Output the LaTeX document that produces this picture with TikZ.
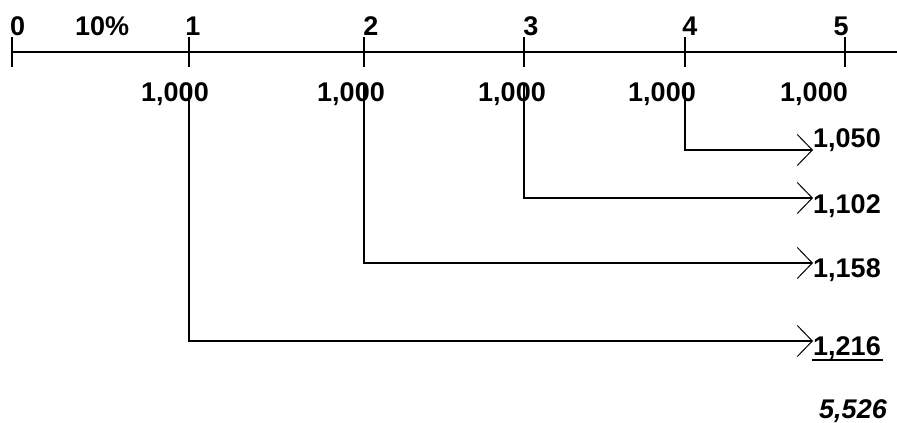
\documentclass[tikz,border=0pt]{standalone}
\usepackage{fontspec}
\setmainfont{Liberation Sans}
\usetikzlibrary{arrows.meta}
\begin{document}
\begin{tikzpicture}[x=1pt,y=-1pt,
  lbl/.style={font=\bfseries\fontsize{27}{27}\selectfont, inner sep=0pt, anchor=base},
  axisline/.style={line width=1.4pt},
  flow/.style={line width=1.4pt, -{Straight Barb[length=15pt,width=31pt,line width=1pt]}}]
\useasboundingbox (0,0) rectangle (897,423);

% time line with period ticks
\coordinate (a0) at (12,52);
\coordinate (aend) at (897,52);
\draw[axisline] (a0) -- (aend);
\foreach \n/\x in {0/12,1/189,2/364,3/524,4/685,5/845}{
  \draw[axisline] (\x,37) -- (\x,67);
}

% period labels and rate
\node[lbl, anchor=base west] (p0) at (10,35) {0};
\node[lbl, anchor=base west] (rate) at (75,35) {10\%};
\node[lbl] (p1) at (193,35) {1};
\node[lbl] (p2) at (371,35) {2};
\node[lbl] (p3) at (531,35) {3};
\node[lbl] (p4) at (690,35) {4};
\node[lbl] (p5) at (841,35) {5};

% payments
\node[lbl] (c1) at (175,101) {1,000};
\node[lbl] (c2) at (351,101) {1,000};
\node[lbl] (c3) at (512,101) {1,000};
\node[lbl] (c4) at (662,101) {1,000};
\node[lbl] (c5) at (814,101) {1,000};

% compounded values at period 5
\node[lbl, anchor=base west] (v4) at (813,147) {1,050};
\node[lbl, anchor=base west] (v3) at (813,213) {1,102};
\node[lbl, anchor=base west] (v2) at (813,277) {1,158};
\node[lbl, anchor=base west] (v1) at (813,355) {1,216};
\coordinate (u1) at (812,360);
\coordinate (u2) at (883,360);
\draw[line width=1.4pt] (u1) -- (u2);
\node[lbl, font=\bfseries\itshape\fontsize{27}{27}\selectfont] (sum) at (853,418) {5,526};

% carrying each payment forward
\coordinate (s1) at (189,84);  \coordinate (e1) at (813,341);
\coordinate (s2) at (364,84);  \coordinate (e2) at (813,263);
\coordinate (s3) at (524,84);  \coordinate (e3) at (813,198);
\coordinate (s4) at (685,84);  \coordinate (e4) at (813,150);
\foreach \i in {1,2,3,4}{
  \draw[flow] (s\i) |- (e\i);
}
\end{tikzpicture}
\end{document}
